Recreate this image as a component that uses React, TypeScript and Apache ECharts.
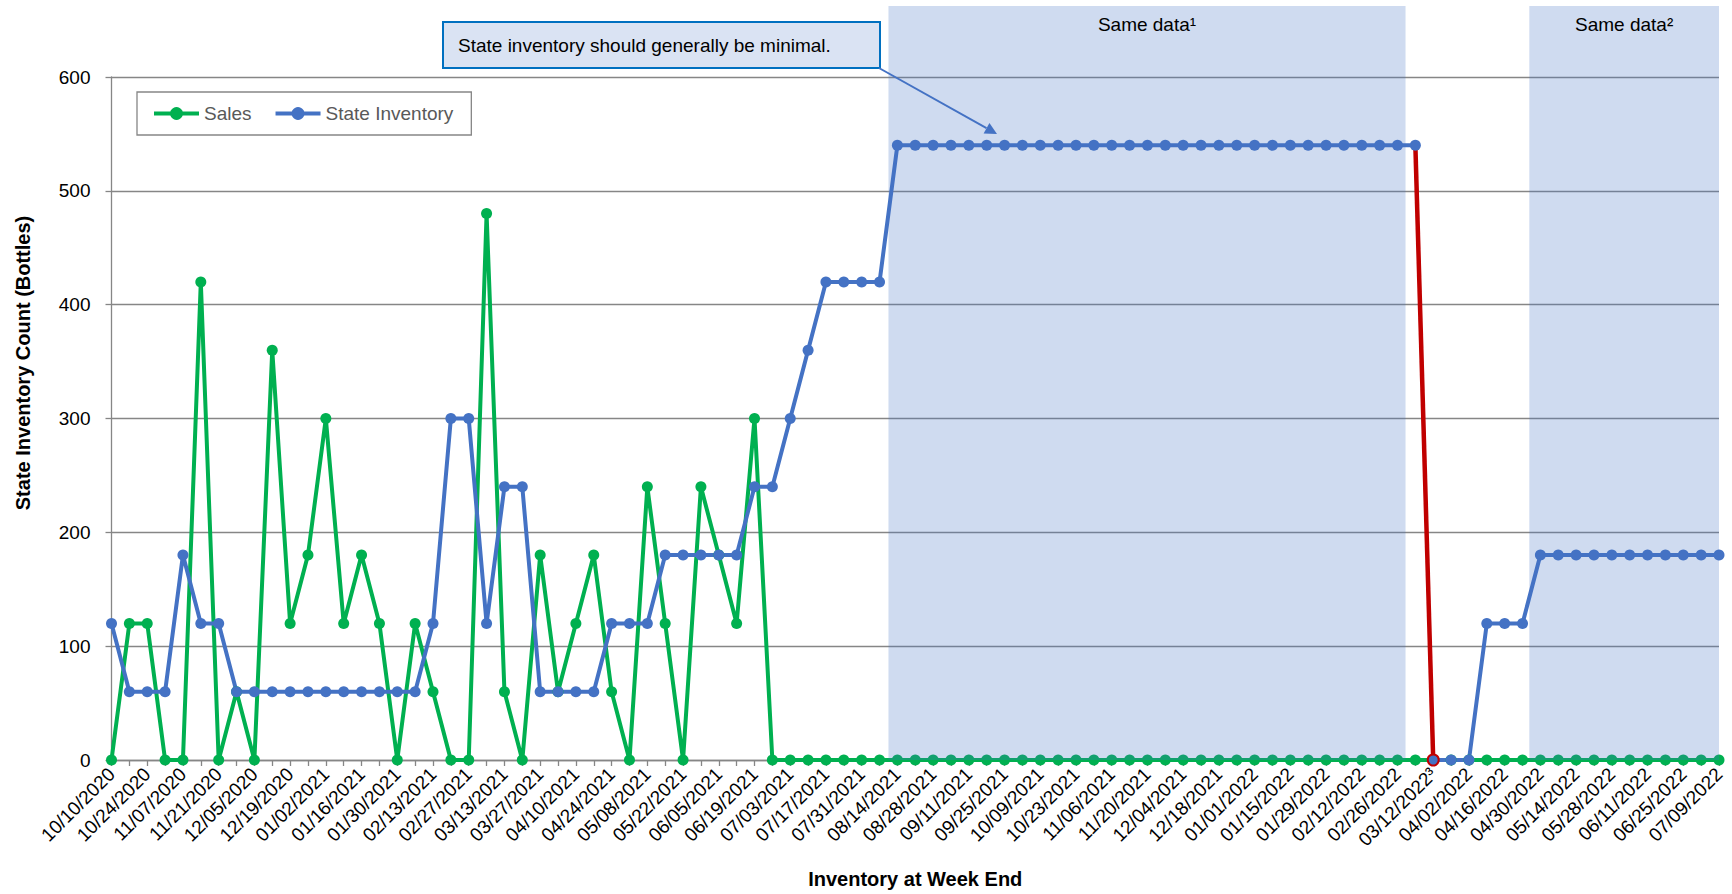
import React, { useEffect, useRef } from 'react';
import * as echarts from 'echarts';

const weekEnds: string[] = [
  '10/10/2020', '10/17/2020', '10/24/2020', '10/31/2020', '11/07/2020', '11/14/2020', '11/21/2020', '11/28/2020',
  '12/05/2020', '12/12/2020', '12/19/2020', '12/26/2020', '01/02/2021', '01/09/2021', '01/16/2021', '01/23/2021',
  '01/30/2021', '02/06/2021', '02/13/2021', '02/20/2021', '02/27/2021', '03/06/2021', '03/13/2021', '03/20/2021',
  '03/27/2021', '04/03/2021', '04/10/2021', '04/17/2021', '04/24/2021', '05/01/2021', '05/08/2021', '05/15/2021',
  '05/22/2021', '05/29/2021', '06/05/2021', '06/12/2021', '06/19/2021', '06/26/2021', '07/03/2021', '07/10/2021',
  '07/17/2021', '07/24/2021', '07/31/2021', '08/07/2021', '08/14/2021', '08/21/2021', '08/28/2021', '09/04/2021',
  '09/11/2021', '09/18/2021', '09/25/2021', '10/02/2021', '10/09/2021', '10/16/2021', '10/23/2021', '10/30/2021',
  '11/06/2021', '11/13/2021', '11/20/2021', '11/27/2021', '12/04/2021', '12/11/2021', '12/18/2021', '12/25/2021',
  '01/01/2022', '01/08/2022', '01/15/2022', '01/22/2022', '01/29/2022', '02/05/2022', '02/12/2022', '02/19/2022',
  '02/26/2022', '03/05/2022', '03/12/2022³', '03/19/2022', '04/02/2022', '04/09/2022', '04/16/2022', '04/23/2022',
  '04/30/2022', '05/07/2022', '05/14/2022', '05/21/2022', '05/28/2022', '06/04/2022', '06/11/2022', '06/18/2022',
  '06/25/2022', '07/02/2022', '07/09/2022',
];

const salesBottles: number[] = [
  0, 120, 120, 0, 0, 420, 0, 60, 0, 360,
  120, 180, 300, 120, 180, 120, 0, 120, 60, 0,
  0, 480, 60, 0, 180, 60, 120, 180, 60, 0,
  240, 120, 0, 240, 180, 120, 300, 0, 0, 0,
  0, 0, 0, 0, 0, 0, 0, 0, 0, 0,
  0, 0, 0, 0, 0, 0, 0, 0, 0, 0,
  0, 0, 0, 0, 0, 0, 0, 0, 0, 0,
  0, 0, 0, 0, 0, 0, 0, 0, 0, 0,
  0, 0, 0, 0, 0, 0, 0, 0, 0, 0,
  0,
];

const stateInventory: number[] = [
  120, 60, 60, 60, 180, 120, 120, 60, 60, 60,
  60, 60, 60, 60, 60, 60, 60, 60, 120, 300,
  300, 120, 240, 240, 60, 60, 60, 60, 120, 120,
  120, 180, 180, 180, 180, 180, 240, 240, 300, 360,
  420, 420, 420, 420, 540, 540, 540, 540, 540, 540,
  540, 540, 540, 540, 540, 540, 540, 540, 540, 540,
  540, 540, 540, 540, 540, 540, 540, 540, 540, 540,
  540, 540, 540, 540, 0, 0, 0, 120, 120, 120,
  180, 180, 180, 180, 180, 180, 180, 180, 180, 180,
  180,
];

const dropFromIndex = 73; // last week before the inventory reset
const yTickValues: number[] = [0, 100, 200, 300, 400, 500, 600];

const shadedLabels: string[] = ['Same data¹', 'Same data²'];
const shadedFrom: number[] = [43.5, 79.38];
const shadedTo: number[] = [72.45, 90];

const calloutText = 'State inventory should generally be minimal.';

const FONT = '"Liberation Sans", Arial, Helvetica, sans-serif';
const GREEN = '#00B050';
const BLUE = '#4472C4';
const RED = '#C00000';
const GRID = '#868686';

export default function App() {
  const ref = useRef<HTMLDivElement>(null);

  useEffect(() => {
    document.body.style.margin = '0';
    if (!ref.current) return;
    const chart = echarts.init(ref.current, undefined, { renderer: 'svg' });

    const invBefore = stateInventory.map((v, i) => (i <= dropFromIndex ? v : null));
    const invAfter = stateInventory.map((v, i) => {
      if (i <= dropFromIndex) return null;
      if (i === dropFromIndex + 1) {
        return { value: v, itemStyle: { color: BLUE, borderColor: RED, borderWidth: 2 } };
      }
      return v;
    });
    const dropSegment = stateInventory.map((v, i) =>
      i === dropFromIndex || i === dropFromIndex + 1 ? v : null
    );

    const shadeData = shadedLabels.map((lab, k) => [
      { name: lab, xAxis: shadedFrom[k], y: 6 },
      { xAxis: shadedTo[k], yAxis: 0 },
    ]);

    // arrow geometry for the callout
    const ax1 = 879, ay1 = 68, tipX = 997, tipY = 134;
    const dx = tipX - ax1, dy = tipY - ay1;
    const len = Math.sqrt(dx * dx + dy * dy);
    const ux = dx / len, uy = dy / len;
    const nx = -uy, ny = ux;
    const headLen = 12, headHalf = 6;
    const bx = tipX - headLen * ux, by = tipY - headLen * uy;

    const lineCommon = {
      type: 'line' as const,
      symbol: 'circle',
      symbolSize: 11,
      showAllSymbol: true,
      connectNulls: false,
      xAxisIndex: 0,
      yAxisIndex: 0,
    };

    chart.setOption({
      animation: false,
      textStyle: { fontFamily: FONT },
      grid: { left: 111.5, right: 13, top: 77, bottom: 133.5, containLabel: false },
      legend: {
        data: ['Sales', 'State Inventory'],
        left: 137,
        top: 92,
        orient: 'horizontal',
        padding: [12, 18, 12, 15],
        itemGap: 22,
        itemWidth: 45,
        itemHeight: 16,
        borderColor: GRID,
        borderWidth: 1.3,
        backgroundColor: '#FFFFFF',
        lineStyle: { width: 4 },
        textStyle: { fontSize: 19, color: '#595959', fontFamily: FONT },
      },
      xAxis: [
        {
          type: 'category',
          data: weekEnds,
          boundaryGap: false,
          axisLine: { show: true, lineStyle: { color: GRID, width: 1.3 } },
          axisTick: { show: true, interval: 0, length: 6, lineStyle: { color: GRID, width: 1.3 } },
          axisLabel: { interval: 1, rotate: 45, fontSize: 19, color: '#000', margin: 11, fontFamily: FONT },
          splitLine: { show: false },
          name: 'Inventory at Week End',
          nameLocation: 'middle',
          nameGap: 109,
          nameTextStyle: { fontSize: 20, fontWeight: 'bold', color: '#000', fontFamily: FONT },
        },
        {
          type: 'value',
          min: 0,
          max: weekEnds.length - 1,
          show: false,
        },
      ],
      yAxis: {
        type: 'value',
        min: yTickValues[0],
        max: yTickValues[yTickValues.length - 1],
        interval: 100,
        axisLine: { show: true, lineStyle: { color: GRID, width: 1.3 } },
        axisTick: { show: true, length: 6, lineStyle: { color: GRID, width: 1.3 } },
        axisLabel: { fontSize: 19, color: '#000', margin: 21, fontFamily: FONT },
        splitLine: { show: true, lineStyle: { color: GRID, width: 1.3 } },
      },
      series: [
        {
          ...lineCommon,
          name: 'Sales',
          data: salesBottles,
          itemStyle: { color: GREEN },
          lineStyle: { color: GREEN, width: 4 },
          z: 2,
        },
        {
          ...lineCommon,
          name: 'Inventory reset',
          data: dropSegment,
          symbol: 'none',
          itemStyle: { color: RED },
          lineStyle: { color: RED, width: 4.5 },
          z: 2,
        },
        {
          ...lineCommon,
          name: 'State Inventory',
          data: invBefore,
          itemStyle: { color: BLUE },
          lineStyle: { color: BLUE, width: 4 },
          z: 2,
        },
        {
          ...lineCommon,
          name: 'State Inventory',
          data: invAfter,
          itemStyle: { color: BLUE },
          lineStyle: { color: BLUE, width: 4 },
          z: 2,
        },
        {
          type: 'line',
          name: 'shade',
          xAxisIndex: 1,
          yAxisIndex: 0,
          data: [],
          silent: true,
          z: 10,
          markArea: {
            silent: true,
            z: 10,
            itemStyle: { color: 'rgba(68,114,196,0.26)' },
            label: {
              show: true,
              position: 'insideTop',
              distance: 9,
              fontSize: 19,
              color: '#000',
              fontFamily: FONT,
            },
            data: shadeData,
          },
        },
      ],
      graphic: [
        {
          type: 'text',
          x: 23,
          y: 363,
          rotation: Math.PI / 2,
          z: 100,
          style: {
            text: 'State Inventory Count (Bottles)',
            fontSize: 20,
            fontWeight: 'bold',
            fontFamily: FONT,
            fill: '#000',
            align: 'center',
            verticalAlign: 'middle',
          },
        },
        {
          type: 'rect',
          z: 100,
          shape: { x: 443, y: 22, width: 437, height: 46 },
          style: { fill: '#DAE3F3', stroke: '#0070C0', lineWidth: 2 },
        },
        {
          type: 'text',
          x: 458,
          y: 45,
          z: 101,
          style: {
            text: calloutText,
            fontSize: 19,
            fontFamily: FONT,
            fill: '#000',
            align: 'left',
            verticalAlign: 'middle',
          },
        },
        {
          type: 'line',
          z: 100,
          shape: { x1: ax1, y1: ay1, x2: bx, y2: by },
          style: { stroke: BLUE, lineWidth: 2 },
        },
        {
          type: 'polygon',
          z: 100,
          shape: {
            points: [
              [tipX, tipY],
              [bx + headHalf * nx, by + headHalf * ny],
              [bx - headHalf * nx, by - headHalf * ny],
            ],
          },
          style: { fill: BLUE },
        },
      ],
    });

    return () => {
      chart.dispose();
    };
  }, []);

  return <div ref={ref} style={{ width: 1732, height: 894 }} />;
}
